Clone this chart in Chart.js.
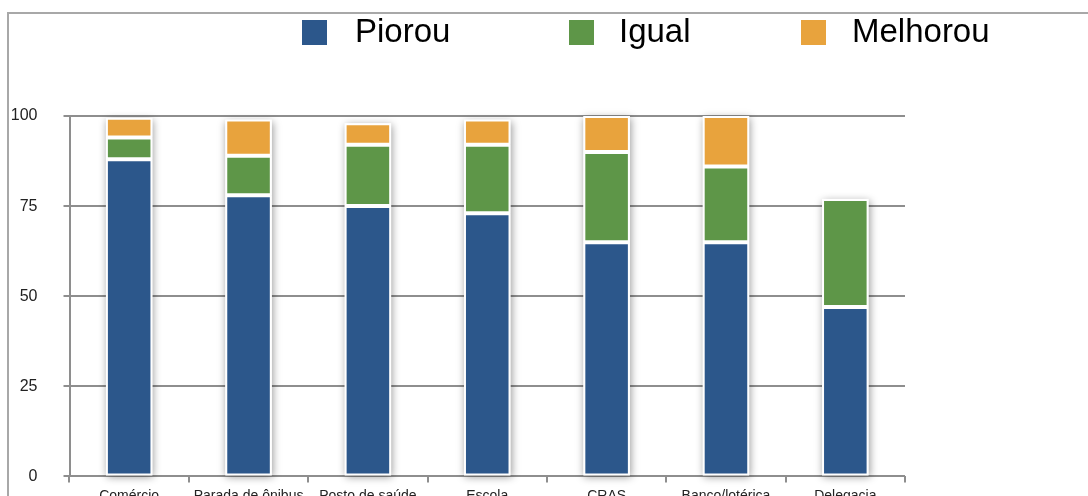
<!DOCTYPE html>
<html>
<head>
<meta charset="utf-8">
<script src="https://cdn.jsdelivr.net/npm/chart.js@4.4.1/dist/chart.umd.min.js"></script>
<style>
  html, body { margin: 0; padding: 0; background: #fff; overflow: hidden; }
  #frame {
    position: absolute; left: 7px; top: 12px; width: 1100px; height: 500px;
    border-top: 2px solid #a8a8a8; border-left: 2px solid #a8a8a8;
  }
  #wrap { position: absolute; left: 0; top: 0; width: 1088px; height: 512px; }
</style>
</head>
<body>
<div id="frame"></div>
<div id="wrap"><canvas id="grafico"></canvas></div>
<script>
// Dados
const categorias = ["Comércio", "Parada de ônibus", "Posto de saúde", "Escola", "CRAS", "Banco/lotérica", "Delegacia"];
const piorou   = [88, 78, 75, 73, 65, 65, 47];
const igual    = [6, 11, 17, 19, 25, 21, 30];
const melhorou = [5.5, 10, 6, 7, 10, 14, 0];
const ticksY   = [0, 25, 50, 75, 100];

const cores = { piorou: "#2c578b", igual: "#5e9648", melhorou: "#e8a33d" };
const cinza = "#8e8e8e";
const fonte = "'Liberation Sans', Arial, sans-serif";

// sombra suave atrás de cada coluna empilhada
const sombraBarras = {
  id: "sombraBarras",
  beforeDatasetsDraw(chart) {
    const ctx = chart.ctx;
    const n = chart.data.labels.length;
    ctx.save();
    ctx.shadowColor = "rgba(0,0,0,0.4)";
    ctx.shadowBlur = 8;
    ctx.shadowOffsetX = 1;
    ctx.shadowOffsetY = 2;
    ctx.fillStyle = "#fff";
    for (let i = 0; i < n; i++) {
      let topo = Infinity, base = -Infinity, x = 0, w = 0;
      chart.data.datasets.forEach((ds, d) => {
        const el = chart.getDatasetMeta(d).data[i];
        if (!el || !ds.data[i]) return;
        topo = Math.min(topo, el.y);
        base = Math.max(base, el.base);
        x = el.x; w = el.width;
      });
      if (topo < base) ctx.fillRect(x - w / 2, topo, w, base - topo);
    }
    ctx.restore();
  }
};

// legenda no topo
const legendaTopo = {
  id: "legendaTopo",
  afterDraw(chart, args, opts) {
    const ctx = chart.ctx;
    ctx.save();
    ctx.font = "33px " + fonte;
    ctx.textBaseline = "middle";
    chart.data.datasets.forEach((ds, i) => {
      const p = opts.itens[i];
      ctx.fillStyle = ds.backgroundColor;
      ctx.fillRect(p.caixa, 20, 25, 25);
      ctx.fillStyle = "#000";
      ctx.fillText(ds.label, p.texto, 33);
    });
    ctx.restore();
  }
};

new Chart(document.getElementById("grafico"), {
  type: "bar",
  data: {
    labels: categorias,
    datasets: [
      { label: "Piorou", data: piorou, backgroundColor: cores.piorou },
      { label: "Igual", data: igual, backgroundColor: cores.igual },
      { label: "Melhorou", data: melhorou, backgroundColor: cores.melhorou }
    ]
  },
  options: {
    responsive: true,
    maintainAspectRatio: false,
    animation: false,
    layout: { padding: { top: 116, right: 183, left: 0, bottom: 0 } },
    datasets: {
      bar: {
        borderColor: "#ffffff",
        borderWidth: 2,
        borderSkipped: false,
        categoryPercentage: 1,
        barPercentage: 0.39
      }
    },
    plugins: {
      legend: { display: false },
      tooltip: { enabled: false },
      legendaTopo: {
        itens: [
          { caixa: 302, texto: 355 },
          { caixa: 569, texto: 619 },
          { caixa: 801, texto: 852 }
        ]
      }
    },
    scales: {
      x: {
        stacked: true,
        grid: { display: true, drawOnChartArea: false, color: cinza, lineWidth: 2, tickLength: 6, offset: true },
        border: { display: false },
        ticks: { color: "#222", padding: 5, maxRotation: 0, autoSkip: false, font: { family: fonte, size: 14 } },
        afterFit(scale) { scale.height = 512 - 476.5; }
      },
      y: {
        stacked: true,
        min: 0,
        max: 100,
        afterBuildTicks(scale) { scale.ticks = ticksY.map(v => ({ value: v })); },
        grid: { color: cinza, lineWidth: 2, tickLength: 6 },
        border: { display: true, color: cinza, width: 2 },
        ticks: { color: "#222", padding: 26, font: { family: fonte, size: 16 } },
        afterFit(scale) { scale.width = 69.5; }
      }
    }
  },
  plugins: [sombraBarras, legendaTopo]
});
</script>
</body>
</html>
